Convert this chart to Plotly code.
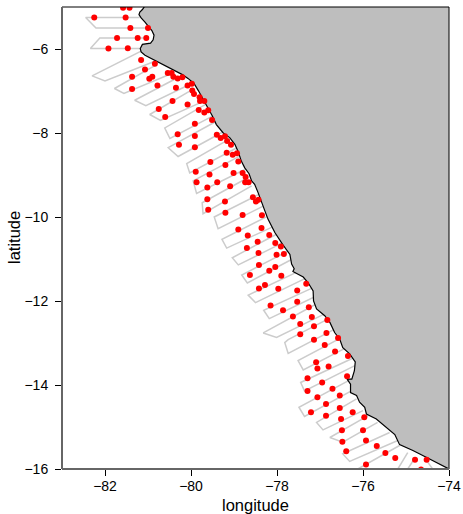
import plotly.graph_objects as go

coast_lon = [-81.09,-81.09,-81.13,-81.19,-81.21,-81.16,-81.07,-80.99,-80.91,-80.86,-80.88,-80.94,-81.05,-81.13,-81.18,-81.16,-81.07,-80.96,-80.80,-80.61,-80.38,-80.20,-80.07,-79.93,-79.83,-79.76,-79.66,-79.59,-79.50,-79.41,-79.25,-79.10,-78.98,-78.90,-78.83,-78.75,-78.65,-78.59,-78.52,-78.44,-78.36,-78.28,-78.21,-78.05,-77.87,-77.70,-77.66,-77.60,-77.63,-77.39,-77.28,-77.16,-77.15,-77.08,-76.89,-76.77,-76.66,-76.54,-76.47,-76.31,-76.18,-76.20,-76.26,-76.37,-76.29,-76.29,-76.15,-76.08,-75.96,-75.92,-75.69,-75.46,-75.26,-75.15,-74.84,-74.53,-74.22,-74.00]
coast_lat = [-4.90,-5.00,-5.06,-5.12,-5.18,-5.26,-5.36,-5.46,-5.56,-5.67,-5.78,-5.86,-5.87,-5.89,-5.99,-6.07,-6.15,-6.21,-6.29,-6.39,-6.51,-6.61,-6.70,-6.82,-6.99,-7.12,-7.27,-7.42,-7.60,-7.80,-8.00,-8.11,-8.27,-8.45,-8.67,-8.83,-8.97,-9.14,-9.22,-9.42,-9.66,-9.86,-10.05,-10.37,-10.65,-10.89,-11.12,-11.23,-11.30,-11.43,-11.56,-11.76,-12.00,-12.19,-12.35,-12.51,-12.75,-12.91,-13.11,-13.26,-13.45,-13.66,-13.86,-13.86,-13.98,-14.18,-14.25,-14.41,-14.53,-14.69,-14.81,-15.01,-15.18,-15.42,-15.56,-15.72,-15.88,-16.00]
land_lon = coast_lon + [-74.00, -74.00]
land_lat = coast_lat + [-16.00, -4.90]

block_lon = [
 [-81.19,-82.45,-82.21,-81.00], [-81.04,-82.12,-82.34,-81.18], [-81.16,-82.30,-82.00,-80.84],
 [-80.80,-81.78,-81.56,-80.42], [-80.38,-81.31,-81.05,-79.96], [-79.96,-80.96,-80.71,-79.70],
 [-79.66,-80.61,-80.49,-79.50], [-79.41,-80.53,-80.30,-79.25], [-79.10,-80.10,-80.03,-78.91],
 [-78.87,-79.95,-79.87,-78.75], [-78.67,-79.74,-79.72,-78.59], [-78.40,-79.46,-79.37,-78.32],
 [-78.21,-79.28,-79.17,-78.05], [-78.01,-79.04,-78.90,-77.86], [-77.74,-78.82,-78.69,-77.64],
 [-77.55,-78.67,-78.50,-77.28], [-77.16,-78.31,-78.18,-77.12], [-77.12,-78.32,-78.01,-76.82],
 [-76.66,-77.74,-77.82,-77.74,-76.58], [-76.50,-77.51,-77.39,-76.31], [-76.19,-77.45,-77.36,-76.19],
 [-76.27,-77.49,-77.36,-76.27], [-76.15,-77.08,-76.93,-76.00], [-75.88,-76.77,-76.47,-75.66],
 [-75.38,-76.47,-76.31,-75.19], [-75.15,-76.12], [-74.96,-75.19], [-74.80,-74.96], [-74.52,-74.38],
]
block_lat = [
 [-5.25,-5.25,-5.50,-5.50], [-5.74,-5.74,-5.99,-5.99], [-6.05,-6.64,-6.76,-6.29],
 [-6.37,-6.94,-7.06,-6.57], [-6.72,-7.22,-7.35,-6.81], [-6.96,-7.56,-7.70,-7.24],
 [-7.32,-7.88,-8.13,-7.60], [-7.72,-8.35,-8.56,-7.97], [-8.14,-8.73,-8.95,-8.34],
 [-8.55,-9.14,-9.44,-8.87], [-9.06,-9.66,-9.92,-9.26], [-9.45,-10.00,-10.28,-9.74],
 [-9.98,-10.53,-10.74,-10.21], [-10.41,-10.97,-11.14,-10.61], [-10.81,-11.38,-11.57,-11.00],
 [-11.32,-11.86,-12.04,-11.43], [-11.68,-12.22,-12.42,-11.90], [-12.09,-12.76,-12.87,-12.27],
 [-12.35,-12.92,-12.99,-13.25,-12.63], [-12.87,-13.42,-13.64,-13.07], [-13.34,-13.94,-14.14,-13.54],
 [-13.86,-14.53,-14.75,-14.14], [-14.33,-14.89,-15.07,-14.61], [-14.73,-15.25,-15.36,-14.89],
 [-15.13,-15.64,-15.82,-15.32], [-15.44,-16.00], [-15.61,-16.00], [-15.75,-16.00], [-15.80,-16.00],
]

station_lon = [-81.58,-81.43,-82.25,-81.52,-81.41,-81.00,-81.72,-81.24,-81.04,-81.92,-81.47,-81.16,-80.84,-81.07,-81.37,-80.97,-80.90,-80.54,-80.45,-80.41,-80.31,-80.20,-81.37,-80.78,-80.35,-80.08,-79.98,-79.97,-79.93,-79.80,-79.79,-79.69,-80.43,-80.08,-80.75,-79.82,-79.69,-79.60,-80.60,-79.51,-79.91,-80.31,-79.91,-79.40,-79.31,-79.21,-79.16,-79.07,-80.28,-79.91,-79.17,-79.03,-78.93,-79.55,-79.20,-78.90,-79.89,-79.57,-79.01,-78.80,-78.73,-78.74,-78.66,-79.39,-79.87,-79.62,-79.09,-79.62,-79.21,-78.56,-78.49,-78.43,-79.60,-79.20,-78.80,-78.35,-78.90,-78.36,-78.68,-78.18,-78.45,-78.04,-78.70,-77.91,-78.43,-78.01,-77.84,-78.42,-78.04,-78.18,-78.63,-77.90,-78.42,-78.28,-77.97,-77.32,-77.53,-77.53,-78.15,-77.26,-77.86,-77.63,-77.19,-76.83,-77.46,-77.14,-77.46,-76.85,-77.14,-76.58,-76.89,-76.65,-76.35,-77.09,-77.06,-76.80,-76.37,-77.29,-76.95,-76.71,-77.29,-76.54,-77.06,-76.86,-76.54,-77.21,-76.24,-76.86,-75.97,-76.51,-76.49,-76.00,-76.48,-75.93,-75.68,-76.39,-75.48,-75.25,-74.79,-74.52,-75.93,-74.65]
station_lat = [-5.02,-5.02,-5.25,-5.25,-5.50,-5.50,-5.74,-5.74,-5.74,-5.99,-5.98,-6.26,-6.35,-6.49,-6.66,-6.71,-6.66,-6.57,-6.57,-6.66,-6.70,-6.67,-6.95,-6.87,-6.92,-6.87,-6.83,-6.99,-7.07,-7.15,-7.24,-7.24,-7.24,-7.32,-7.43,-7.45,-7.51,-7.46,-7.62,-7.69,-7.78,-8.03,-8.07,-8.04,-8.12,-8.08,-8.19,-8.28,-8.28,-8.34,-8.47,-8.52,-8.48,-8.69,-8.76,-8.68,-8.92,-8.99,-8.95,-8.95,-9.05,-9.17,-9.17,-9.17,-9.17,-9.30,-9.27,-9.58,-9.63,-9.53,-9.63,-9.59,-9.83,-9.90,-9.95,-9.96,-10.30,-10.26,-10.44,-10.43,-10.59,-10.62,-10.74,-10.70,-10.86,-10.90,-10.88,-11.14,-11.19,-11.28,-11.38,-11.40,-11.70,-11.62,-11.71,-11.59,-11.75,-12.02,-12.11,-12.15,-12.22,-12.37,-12.38,-12.45,-12.55,-12.60,-12.79,-12.76,-12.92,-12.88,-13.05,-13.20,-13.31,-13.46,-13.61,-13.56,-13.79,-13.84,-13.94,-14.09,-14.14,-14.25,-14.29,-14.45,-14.55,-14.65,-14.65,-14.73,-14.77,-14.81,-15.08,-15.08,-15.35,-15.32,-15.45,-15.58,-15.62,-15.74,-15.78,-15.78,-15.89,-16.01]

x_ticks = [-82, -80, -78, -76, -74]
y_ticks = [-16, -14, -12, -10, -8, -6]
x_labels = ["\u221282", "\u221280", "\u221278", "\u221276", "\u221274"]
y_labels = ["\u221216", "\u221214", "\u221212", "\u221210", "\u22128", "\u22126"]

fig = go.Figure()
for lo, la in zip(block_lon, block_lat):
    fig.add_trace(go.Scatter(x=lo, y=la, mode="lines", line=dict(color="#cccccc", width=1.5), hoverinfo="skip"))
fig.add_trace(go.Scatter(x=land_lon, y=land_lat, mode="lines", fill="toself", fillcolor="#bebebe",
                         line=dict(color="rgba(0,0,0,0)", width=0), hoverinfo="skip"))
fig.add_trace(go.Scatter(x=coast_lon, y=coast_lat, mode="lines", line=dict(color="black", width=1.2), hoverinfo="skip"))
fig.add_trace(go.Scatter(x=station_lon, y=station_lat, mode="markers",
                         marker=dict(color="#ff0000", size=6, line=dict(width=0))))

font = dict(family="Liberation Sans, Arial, sans-serif", size=14, color="black")
fig.update_layout(
    width=463, height=514, autosize=False, showlegend=False,
    margin=dict(l=62, r=13.5, t=6.5, b=45, autoexpand=False),
    plot_bgcolor="white", paper_bgcolor="white", font=font,
    xaxis=dict(range=[-83, -74], tickvals=x_ticks, ticktext=x_labels, ticks="outside", ticklen=6,
               tickwidth=1, tickcolor="black", showgrid=False, zeroline=False, showline=False,
               automargin=False, ticklabelstandoff=-2),
    yaxis=dict(range=[-16, -5], tickvals=y_ticks, ticktext=y_labels, ticks="outside", ticklen=6,
               tickwidth=1, tickcolor="black", showgrid=False, zeroline=False, showline=False,
               automargin=False, ticklabelstandoff=4),
    annotations=[
        dict(text="longitude", xref="paper", yref="paper", x=0.5, y=0, yshift=-36, yanchor="middle",
             showarrow=False, font=dict(size=16.5)),
        dict(text="latitude", xref="paper", yref="paper", x=0, y=0.5, xshift=-48, xanchor="center",
             textangle=-90, showarrow=False, font=dict(size=16.5)),
    ],
    shapes=[
        dict(type="line", xref="paper", yref="paper", x0=0, x1=1, y0=1, y1=1, line=dict(color="black", width=1)),
        dict(type="line", xref="paper", yref="paper", x0=1, x1=1, y0=0, y1=1, line=dict(color="black", width=1)),
        dict(type="line", xref="paper", yref="paper", x0=0, x1=1, y0=0, y1=0, line=dict(color="#666666", width=2)),
        dict(type="line", xref="paper", yref="paper", x0=0, x1=0, y0=0, y1=1, line=dict(color="#666666", width=2)),
    ],
)
fig.write_html("out.html", config=dict(displayModeBar=False),
               post_script="document.body.style.margin='0';document.documentElement.style.overflow='hidden';")
